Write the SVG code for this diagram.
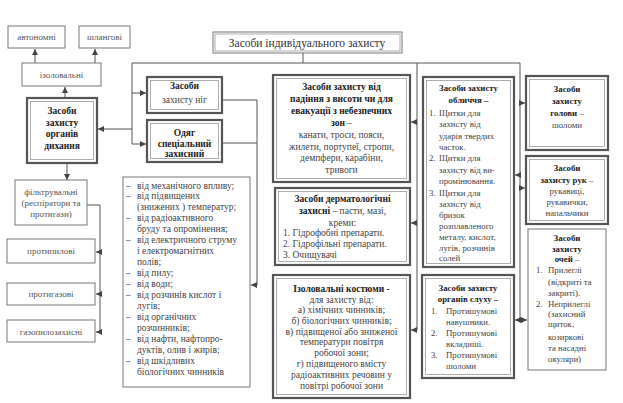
<svg xmlns="http://www.w3.org/2000/svg" width="623" height="403" viewBox="0 0 623 403">
<defs>
<marker id="ah" markerWidth="6" markerHeight="6" refX="6" refY="3" orient="auto" markerUnits="userSpaceOnUse"><path d="M0,0 L6,3 L0,6 z" fill="#444"/></marker>
<style>
.thin{fill:#fff;stroke:#777;stroke-width:1}
.thick{fill:#fff;stroke:#555;stroke-width:2.2}
.inner{fill:none;stroke:#999;stroke-width:0.8}
.ln{fill:none;stroke:#555;stroke-width:1}
.ar{fill:none;stroke:#555;stroke-width:1;marker-end:url(#ah)}
text{font-family:"Liberation Serif","DejaVu Serif",serif;fill:#444;font-size:9.5px}
.c{text-anchor:middle}
.b{font-weight:bold;fill:#222}
.s{font-size:9px;fill:#555}
.t{font-size:11.5px;fill:#333}
.sm text{font-size:8.8px}
</style>
</defs>
<rect width="623" height="403" fill="#fff"/>
<g id="connectors">
<path class="ln" d="M303,53 V63 M132,63 H520"/>
<path class="ln" d="M132,63 V144"/>
<path class="ar" d="M132,93 H146"/>
<path class="ar" d="M132,144 H146"/>
<path class="ar" d="M132,129 H98"/>
<path class="ar" d="M65,98 V87"/>
<path class="ar" d="M35,63 V49"/>
<path class="ar" d="M95,63 V49"/>
<path class="ar" d="M67,163 V180"/>
<path class="ln" d="M87,205 H100 V332"/>
<path class="ar" d="M100,252 H96"/>
<path class="ar" d="M100,294 H96"/>
<path class="ar" d="M100,332 H96"/>
<path class="ln" d="M222,143 H257"/>
<path class="ar" d="M222,100 H257 V285 H251"/>
<path class="ln" d="M417,63 V330"/>
<path class="ar" d="M417,122 H411"/>
<path class="ar" d="M417,223 H411"/>
<path class="ar" d="M417,330 H411"/>
<path class="ln" d="M520,63 V320"/>
<path class="ar" d="M520,103 H525"/>
<path class="ar" d="M520,175 H515"/>
<path class="ar" d="M520,188 H525"/>
<path class="ar" d="M520,320 H515"/>
<path class="ar" d="M520,320 H527"/>
</g>
<g id="main">
<rect class="thin" x="213" y="32" width="189" height="21" stroke-width="1.5"/>
<rect class="inner" x="215" y="34" width="185" height="17"/>
<text class="c t" x="307" y="46.5">Засоби індивідуального захисту</text>
</g>
<g id="avtonomni">
<rect class="thin" x="8" y="26" width="57" height="22"/>
<text class="c s" x="36.5" y="40">автономні</text>
</g>
<g id="shlangovi">
<rect class="thin" x="79" y="26" width="51" height="22"/>
<text class="c s" x="104.5" y="40">шлангові</text>
</g>
<g id="izolovalni">
<rect class="thin" x="22" y="63" width="79" height="23"/>
<text class="c s" x="61.5" y="78">ізоловальні</text>
</g>
<g id="dykhannia">
<rect class="thick" x="27" y="98" width="70" height="65"/>
<rect class="inner" x="30.5" y="101.5" width="63" height="58"/>
<text class="c b" x="62" y="113.5">Засоби</text>
<text class="c b" x="62" y="125.5">захисту</text>
<text class="c b" x="62" y="136.5">органів</text>
<text class="c b" x="62" y="148.5">дихання</text>
</g>
<g id="filtruvalni">
<rect class="thin" x="15" y="180" width="72" height="45"/>
<text class="c s" x="51" y="195">фільтрувальні</text>
<text class="c s" x="51" y="206">(респіратори та</text>
<text class="c s" x="51" y="216.5">протигази)</text>
</g>
<g id="protypylovi">
<rect class="thin" x="7" y="239" width="88" height="24"/>
<text class="c s" x="51" y="254">протипилові</text>
</g>
<g id="protygazovi">
<rect class="thin" x="7" y="283" width="88" height="22"/>
<text class="c s" x="51" y="297">протигазові</text>
</g>
<g id="gazopylozakhysni">
<rect class="thin" x="7" y="320" width="88" height="22"/>
<text class="c s" x="51" y="334.5">газопилозахисні</text>
</g>
<g id="nig">
<rect class="thick" x="147" y="77" width="75" height="36"/>
<rect class="inner" x="150.5" y="80.5" width="68" height="29"/>
<text class="c b" x="184.5" y="89">Засоби</text>
<text class="c" x="184.5" y="102.5">захисту ніг</text>
</g>
<g id="odiag">
<rect class="thick" x="147" y="120" width="75" height="42"/>
<rect class="inner" x="150.5" y="123.5" width="68" height="35"/>
<text class="c b" x="184.5" y="135.5">Одяг</text>
<text class="c b" x="184.5" y="146.5">спеціальний</text>
<text class="c b" x="184.5" y="156.5">захисний</text>
</g>
<g id="list">
<rect class="thin" x="123" y="177" width="127" height="210"/>
<text x="126" y="188.5">–</text><text x="137" y="188.5">від механічного впливу;</text>
<text x="126" y="199">–</text><text x="137" y="199">від підвищених</text>
<text x="137" y="210">(знижених ) температур;</text>
<text x="126" y="221">–</text><text x="137" y="221">від радіоактивного</text>
<text x="137" y="232">бруду та опромінення;</text>
<text x="126" y="243">–</text><text x="137" y="243">від електричного струму</text>
<text x="137" y="254">і електромагнітних</text>
<text x="137" y="265">полів;</text>
<text x="126" y="276">–</text><text x="137" y="276">від пилу;</text>
<text x="126" y="287">–</text><text x="137" y="287">від води;</text>
<text x="126" y="298">–</text><text x="137" y="298">від розчинів кислот і</text>
<text x="137" y="309">лугів;</text>
<text x="126" y="320">–</text><text x="137" y="320">від органічних</text>
<text x="137" y="331">розчинників;</text>
<text x="126" y="342">–</text><text x="137" y="342">від нафти, нафтопро-</text>
<text x="137" y="353">дуктів, олив і жирів;</text>
<text x="126" y="364">–</text><text x="137" y="364">від шкідливих</text>
<text x="137" y="375">біологічних чинників</text>
</g>
<g id="padinnia">
<rect class="thick" x="273" y="75" width="137" height="107"/>
<rect class="inner" x="276.5" y="78.5" width="130" height="100"/>
<text class="c b" x="341.5" y="89.5">Засоби захисту від</text>
<text class="c b" x="341.5" y="101.5">падіння з висоти чи для</text>
<text class="c b" x="341.5" y="113.5">евакуації з небезпечних</text>
<text class="c" x="341.5" y="125.5"><tspan class="b">зон</tspan> –</text>
<text class="c" x="341.5" y="137.5">канати, троси, пояси,</text>
<text class="c" x="341.5" y="149.5">жилети,  портупеї, стропи,</text>
<text class="c" x="341.5" y="160.5">демпфери, карабіни,</text>
<text class="c" x="341.5" y="172.5">тривоги</text>
</g>
<g id="dermatologichni">
<rect class="thick" x="275" y="188" width="135" height="77"/>
<rect class="inner" x="278.5" y="191.5" width="128" height="70"/>
<text class="c b" x="342.5" y="201.5">Засоби дерматологічні</text>
<text class="c" x="342.5" y="213.5"><tspan class="b">захисні</tspan> – пасти, мазі,</text>
<text class="c" x="342.5" y="225.5">креми:</text>
<text x="283" y="236">1. Гідрофобні препарати.</text>
<text x="283" y="247">2. Гідрофільні препарати.</text>
<text x="283" y="258">3. Очищувачі</text>
</g>
<g id="kostiumy">
<rect class="thick" x="273" y="275" width="137" height="123"/>
<rect class="inner" x="276.5" y="278.5" width="130" height="116"/>
<text class="c b" x="341.5" y="291.5">Ізоловальні костюми -</text>
<text class="c" x="341.5" y="302.5">для захисту від:</text>
<text class="c" x="341.5" y="313">а) хімічних чинників;</text>
<text class="c" x="341.5" y="323.5">б) біологічних чинників;</text>
<text class="c" x="341.5" y="334.5">в) підвищеної або зниженої</text>
<text class="c" x="341.5" y="345">температури повітря</text>
<text class="c" x="341.5" y="355.5">робочої зони;</text>
<text class="c" x="341.5" y="366.5">г) підвищеного вмісту</text>
<text class="c" x="341.5" y="377.5">радіоактивних речовин у</text>
<text class="c" x="341.5" y="388.5">повітрі робочої зони</text>
</g>
<g id="oblychchia" class="sm">
<rect class="thick" x="423" y="77" width="91" height="190"/>
<rect class="inner" x="426.5" y="80.5" width="84" height="183"/>
<text class="c b" x="468.5" y="90.5">Засоби захисту</text>
<text class="c b" x="468.5" y="102.5">обличчя –</text>
<text x="429" y="115.5">1.</text><text x="439" y="115.5">Щитки для</text>
<text x="439" y="126.5">захисту від</text>
<text x="439" y="138.5">ударів твердих</text>
<text x="439" y="149.5">часток.</text>
<text x="429" y="160.5">2.</text><text x="439" y="160.5">Щитки для</text>
<text x="439" y="172.5">захисту від ви-</text>
<text x="439" y="183.5">промінювання.</text>
<text x="429" y="195.5">3.</text><text x="439" y="195.5">Щитки для</text>
<text x="439" y="206.5">захисту від</text>
<text x="439" y="217.5">бризок</text>
<text x="439" y="228.5">розплавленого</text>
<text x="439" y="239.5">металу, кислот,</text>
<text x="439" y="250.5">лугів, розчинів</text>
<text x="439" y="260.5">солей</text>
</g>
<g id="slukhu" class="sm">
<rect class="thick" x="422" y="275" width="92" height="103"/>
<rect class="inner" x="425.5" y="278.5" width="85" height="96"/>
<text class="c b" x="468" y="290.5">Засоби захисту</text>
<text class="c b" x="468" y="301.5">органів слуху –</text>
<text x="431" y="313.5">1.</text><text x="446" y="313.5">Протишумові</text>
<text x="446" y="325">навушники.</text>
<text x="431" y="335.5">2.</text><text x="446" y="335.5">Протишумові</text>
<text x="446" y="346.5">вкладиші.</text>
<text x="431" y="357.5">3.</text><text x="446" y="357.5">Протишумові</text>
<text x="446" y="368.5">шоломи</text>
</g>
<g id="golovy" class="sm">
<rect class="thick" x="526" y="76" width="82" height="74"/>
<rect class="inner" x="529.5" y="79.5" width="75" height="67"/>
<text class="c b" x="567" y="92">Засоби</text>
<text class="c b" x="567" y="104">захисту</text>
<text class="c" x="567" y="116"><tspan class="b">голови</tspan> –</text>
<text class="c" x="567" y="128">шоломи</text>
</g>
<g id="ruk" class="sm">
<rect class="thick" x="526" y="156" width="82" height="68"/>
<rect class="inner" x="529.5" y="159.5" width="75" height="61"/>
<text class="c b" x="567" y="170.5">Засоби</text>
<text class="c" x="567" y="182.5"><tspan class="b">захисту рук</tspan> –</text>
<text class="c" x="567" y="194">рукавиці,</text>
<text class="c" x="567" y="205">рукавички,</text>
<text class="c" x="567" y="216">напальчики</text>
</g>
<g id="ochei" class="sm">
<rect class="thin" x="528" y="229" width="78" height="141" stroke-width="2" stroke="#666"/>
<text class="c b" x="567" y="240.5">Засоби</text>
<text class="c b" x="567" y="251.5">захисту</text>
<text class="c" x="567" y="262"><tspan class="b">очей</tspan> –</text>
<text x="536" y="272.5">1.</text><text x="548" y="272.5">Прилеглі</text>
<text x="548" y="285">(відкриті та</text>
<text x="548" y="295.5">закриті).</text>
<text x="536" y="306.5">2.</text><text x="548" y="306.5">Неприлеглі</text>
<text x="548" y="316.5">(захисний</text>
<text x="548" y="326.5">щиток,</text>
<text x="548" y="339.5">козиркові</text>
<text x="548" y="350.5">та насадні</text>
<text x="548" y="361.5">окуляри)</text>
</g>
</svg>
